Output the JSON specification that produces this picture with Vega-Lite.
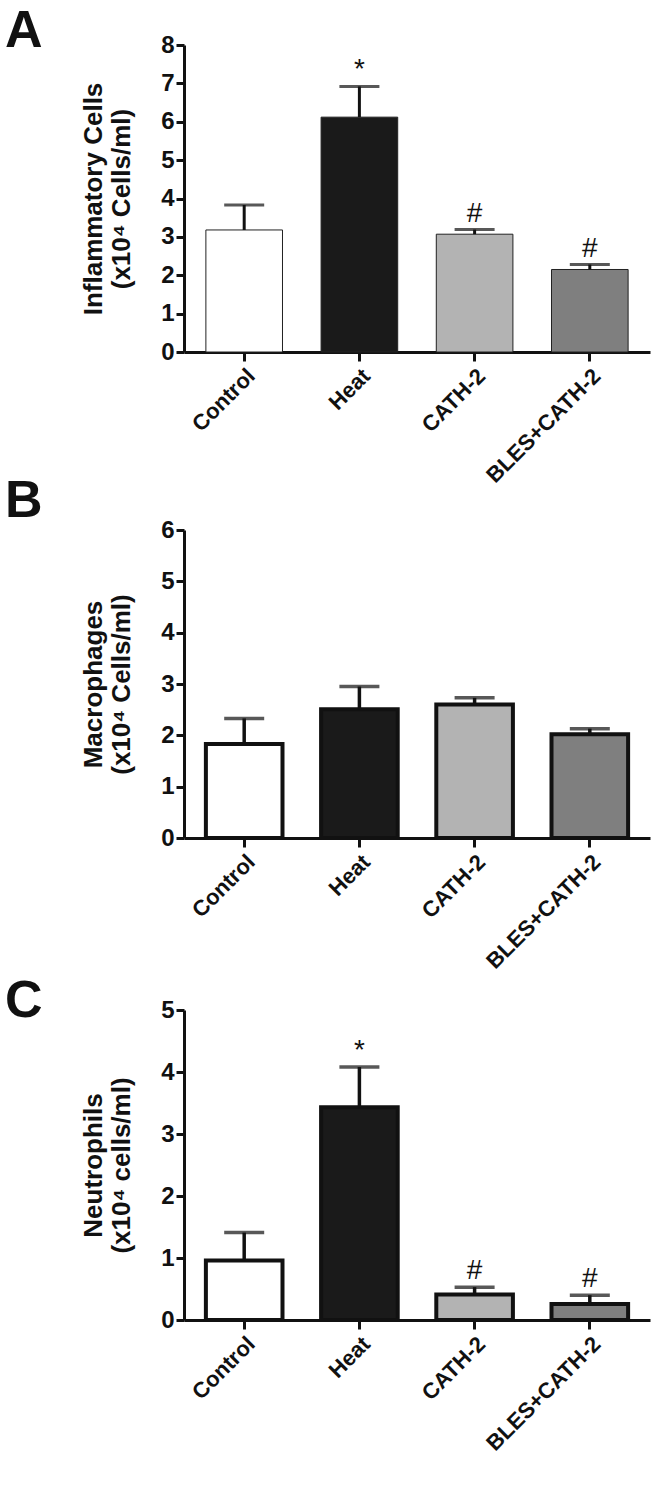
{
  "$schema": "https://vega.github.io/schema/vega-lite/v6.json",
  "background": "white",
  "padding": {"left": 5, "top": 5, "right": 5, "bottom": 5},
  "spacing": -12,
  "config": {
    "view": {"stroke": null},
    "axis": {
      "grid": false,
      "labelFont": "Liberation Sans",
      "labelFontWeight": "bold",
      "labelColor": "#111111",
      "titleFont": "Liberation Sans",
      "titleFontWeight": "bold",
      "titleColor": "#111111",
      "domainColor": "#111111",
      "tickColor": "#111111",
      "domainWidth": 3,
      "tickWidth": 3
    },
    "axisX": {"labelAngle": -45, "labelFontSize": 22, "tickSize": 9, "labelPadding": 4, "title": null},
    "axisY": {"labelFontSize": 24, "tickSize": 8, "labelPadding": 2, "titleFontSize": 26, "titlePadding": 26, "titleLineHeight": 28, "format": "d", "tickCount": 12, "labelOverlap": false},
    "title": {"font": "Liberation Sans", "fontSize": 52, "fontWeight": "bold", "color": "#111111", "anchor": "start", "frame": "group", "dx": -179}
  },
  "datasets": {
    "A": [
      {"group": "Control", "mean": 3.18, "upper": 3.83, "sig": ""},
      {"group": "Heat", "mean": 6.12, "upper": 6.92, "sig": "*"},
      {"group": "CATH-2", "mean": 3.07, "upper": 3.19, "sig": "#"},
      {"group": "BLES+CATH-2", "mean": 2.15, "upper": 2.28, "sig": "#"}
    ],
    "B": [
      {"group": "Control", "mean": 1.83, "upper": 2.33, "sig": ""},
      {"group": "Heat", "mean": 2.51, "upper": 2.95, "sig": ""},
      {"group": "CATH-2", "mean": 2.6, "upper": 2.73, "sig": ""},
      {"group": "BLES+CATH-2", "mean": 2.02, "upper": 2.13, "sig": ""}
    ],
    "C": [
      {"group": "Control", "mean": 0.96, "upper": 1.41, "sig": ""},
      {"group": "Heat", "mean": 3.43, "upper": 4.08, "sig": "*"},
      {"group": "CATH-2", "mean": 0.41, "upper": 0.53, "sig": "#"},
      {"group": "BLES+CATH-2", "mean": 0.26, "upper": 0.4, "sig": "#"}
    ]
  },
  "vconcat": [
    {
      "width": 466,
      "height": 307,
      "title": {"text": "A", "offset": -25},
      "data": {"name": "A"},
      "layer": [
        {
          "mark": {"type": "bar", "stroke": "#222222", "strokeWidth": 1},
          "encoding": {
            "x": {"field": "group", "type": "nominal", "sort": null, "scale": {"paddingInner": 0.335, "paddingOuter": 0.19}},
            "y": {"field": "mean", "type": "quantitative", "scale": {"domain": [0, 8], "nice": false}, "axis": {"values": [0, 1, 2, 3, 4, 5, 6, 7, 8], "tickCount": 12, "labelOverlap": false, "title": ["Inflammatory Cells", "(x10⁴ Cells/ml)"]}},
            "fill": {"field": "group", "type": "nominal", "sort": null, "scale": {"domain": ["Control", "Heat", "CATH-2", "BLES+CATH-2"], "range": ["#ffffff", "#1a1a1a", "#b3b3b3", "#7f7f7f"]}, "legend": null}
          }
        },
        {
          "mark": {"type": "rule", "strokeWidth": 3, "color": "#111111"},
          "encoding": {"x": {"field": "group", "type": "nominal", "sort": null}, "y": {"field": "mean", "type": "quantitative"}, "y2": {"field": "upper"}}
        },
        {
          "mark": {"type": "tick", "size": 40, "thickness": 3, "color": "#111111"},
          "encoding": {"x": {"field": "group", "type": "nominal", "sort": null}, "y": {"field": "upper", "type": "quantitative"}}
        },
        {
          "mark": {"type": "text", "font": "Liberation Sans", "fontSize": 28, "baseline": "alphabetic", "dy": -8, "color": "#111111"},
          "encoding": {"x": {"field": "group", "type": "nominal", "sort": null}, "y": {"field": "upper", "type": "quantitative"}, "text": {"field": "sig"}}
        }
      ]
    },
    {
      "spacing": 2,
      "vconcat": [
        {
          "width": 466,
          "height": 308,
          "title": {"text": "B", "offset": -10},
          "data": {"name": "B"},
          "layer": [
            {
              "mark": {"type": "bar", "stroke": "#111111", "strokeWidth": 4},
              "encoding": {
                "x": {"field": "group", "type": "nominal", "sort": null, "scale": {"paddingInner": 0.335, "paddingOuter": 0.19}},
                "y": {"field": "mean", "type": "quantitative", "scale": {"domain": [0, 6], "nice": false}, "axis": {"values": [0, 1, 2, 3, 4, 5, 6], "tickCount": 12, "labelOverlap": false, "title": ["Macrophages", "(x10⁴ Cells/ml)"]}},
                "fill": {"field": "group", "type": "nominal", "sort": null, "scale": {"domain": ["Control", "Heat", "CATH-2", "BLES+CATH-2"], "range": ["#ffffff", "#1a1a1a", "#b3b3b3", "#7f7f7f"]}, "legend": null}
              }
            },
            {
              "mark": {"type": "rule", "strokeWidth": 3.5, "color": "#111111"},
              "encoding": {"x": {"field": "group", "type": "nominal", "sort": null}, "y": {"field": "mean", "type": "quantitative"}, "y2": {"field": "upper"}}
            },
            {
              "mark": {"type": "tick", "size": 40, "thickness": 3.5, "color": "#111111"},
              "encoding": {"x": {"field": "group", "type": "nominal", "sort": null}, "y": {"field": "upper", "type": "quantitative"}}
            }
          ]
        },
        {
          "width": 466,
          "height": 310,
          "title": {"text": "C", "offset": -30},
          "data": {"name": "C"},
          "layer": [
            {
              "mark": {"type": "bar", "stroke": "#111111", "strokeWidth": 4},
              "encoding": {
                "x": {"field": "group", "type": "nominal", "sort": null, "scale": {"paddingInner": 0.335, "paddingOuter": 0.19}},
                "y": {"field": "mean", "type": "quantitative", "scale": {"domain": [0, 5], "nice": false}, "axis": {"values": [0, 1, 2, 3, 4, 5], "tickCount": 12, "labelOverlap": false, "title": ["Neutrophils", "(x10⁴ cells/ml)"]}},
                "fill": {"field": "group", "type": "nominal", "sort": null, "scale": {"domain": ["Control", "Heat", "CATH-2", "BLES+CATH-2"], "range": ["#ffffff", "#1a1a1a", "#b3b3b3", "#7f7f7f"]}, "legend": null}
              }
            },
            {
              "mark": {"type": "rule", "strokeWidth": 3.5, "color": "#111111"},
              "encoding": {"x": {"field": "group", "type": "nominal", "sort": null}, "y": {"field": "mean", "type": "quantitative"}, "y2": {"field": "upper"}}
            },
            {
              "mark": {"type": "tick", "size": 40, "thickness": 3.5, "color": "#111111"},
              "encoding": {"x": {"field": "group", "type": "nominal", "sort": null}, "y": {"field": "upper", "type": "quantitative"}}
            },
            {
              "mark": {"type": "text", "font": "Liberation Sans", "fontSize": 28, "baseline": "alphabetic", "dy": -8, "color": "#111111"},
              "encoding": {"x": {"field": "group", "type": "nominal", "sort": null}, "y": {"field": "upper", "type": "quantitative"}, "text": {"field": "sig"}}
            }
          ]
        }
      ]
    }
  ]
}
